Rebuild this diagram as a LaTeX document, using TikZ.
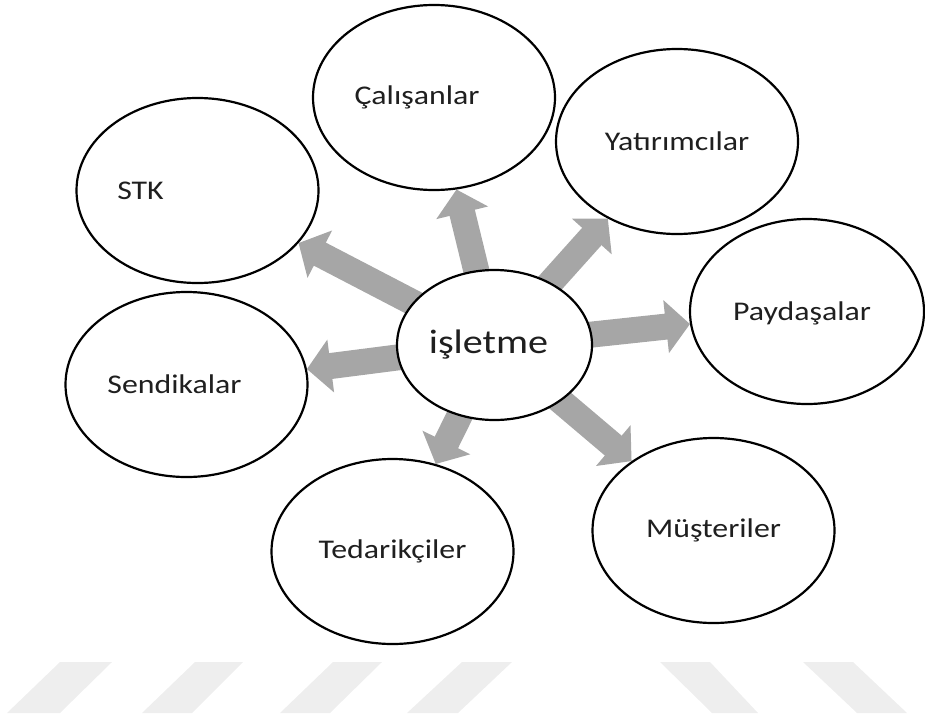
\documentclass[tikz,border=0pt]{standalone}
\usepackage{fontspec}
\newfontfamily\stakefont{Carlito}[FakeStretch=1.18]
\usetikzlibrary{shapes.geometric, arrows.meta, backgrounds}
\definecolor{arrowgray}{HTML}{A6A6A6}
\definecolor{markgray}{HTML}{EEEEEE}
\tikzset{
x=1pt, y=-1pt, % one unit is one pixel of the page, y runs downwards
every label/.style={text=black!88, font=\stakefont\fontsize{27}{30}\selectfont}, % the names
bigtext/.style={font=\stakefont\fontsize{34}{38}\selectfont}, % name in the middle
stake/.style={ellipse, draw, line width=2.2pt, fill=white, minimum width=242pt, minimum height=185pt}, % the outer ellipses
center/.style={ellipse, draw, line width=2.2pt, fill=white, minimum width=195pt, minimum height=150pt}, % the middle ellipse
blockarrow/.style={draw=arrowgray, line width=26pt, -{Triangle[length=24pt, width=52pt]}}, % thick gray arrows
}
\begin{document}
\begin{tikzpicture}
        \useasboundingbox (0,0) rectangle (925,723);

        % stripes along the bottom edge
        \fill[markgray] (7,713) -- (60,662) -- (112,662) -- (60,713) -- cycle;
        \fill[markgray] (142,713) -- (195,662) -- (243,662) -- (192,713) -- cycle;
        \fill[markgray] (280,713) -- (333,662) -- (382,662) -- (330,713) -- cycle;
        \fill[markgray] (407,713) -- (462,662) -- (512,662) -- (458,713) -- cycle;
        \fill[markgray] (660,662) -- (710,662) -- (758,713) -- (712,713) -- cycle;
        \fill[markgray] (803,662) -- (853,662) -- (907,713) -- (857,713) -- cycle;

        \node[center, label={[bigtext, xshift=-6pt]center:işletme}] (isletme) at (494.5,345) {};

        \node[stake, label={[xshift=-17pt]center:Çalışanlar}] (calisanlar) at (434,97.5) {};
        \node[stake, label={center:Yatırımcılar}] (yatirimcilar) at (677,141.5) {};
        \node[stake, minimum width=234pt, label={[xshift=-5pt, yshift=-2pt]center:Paydaşalar}] (paydaslar) at (807,311.5) {};
        \node[stake, label={center:Müşteriler}] (musteriler) at (713.5,530.5) {};
        \node[stake, label={center:Tedarikçiler}] (tedarikciler) at (392.5,551.5) {};
        \node[stake, label={[xshift=-12pt]center:Sendikalar}] (sendikalar) at (186.5,384.5) {};
        \node[stake, label={[xshift=-57pt]center:STK}] (stk) at (197.5,190.5) {};

        \begin{scope}[on background layer]
            \draw[blockarrow] (isletme.center) -- (calisanlar);
            \draw[blockarrow] (isletme.center) -- (yatirimcilar);
            \draw[blockarrow] (isletme.center) -- (paydaslar);
            \draw[blockarrow] (isletme.center) -- (musteriler);
            \draw[blockarrow] (isletme.center) -- (tedarikciler);
            \draw[blockarrow] (isletme.center) -- (sendikalar);
            \draw[blockarrow] (isletme.center) -- (stk);
        \end{scope}
    \end{tikzpicture}
\end{document}
